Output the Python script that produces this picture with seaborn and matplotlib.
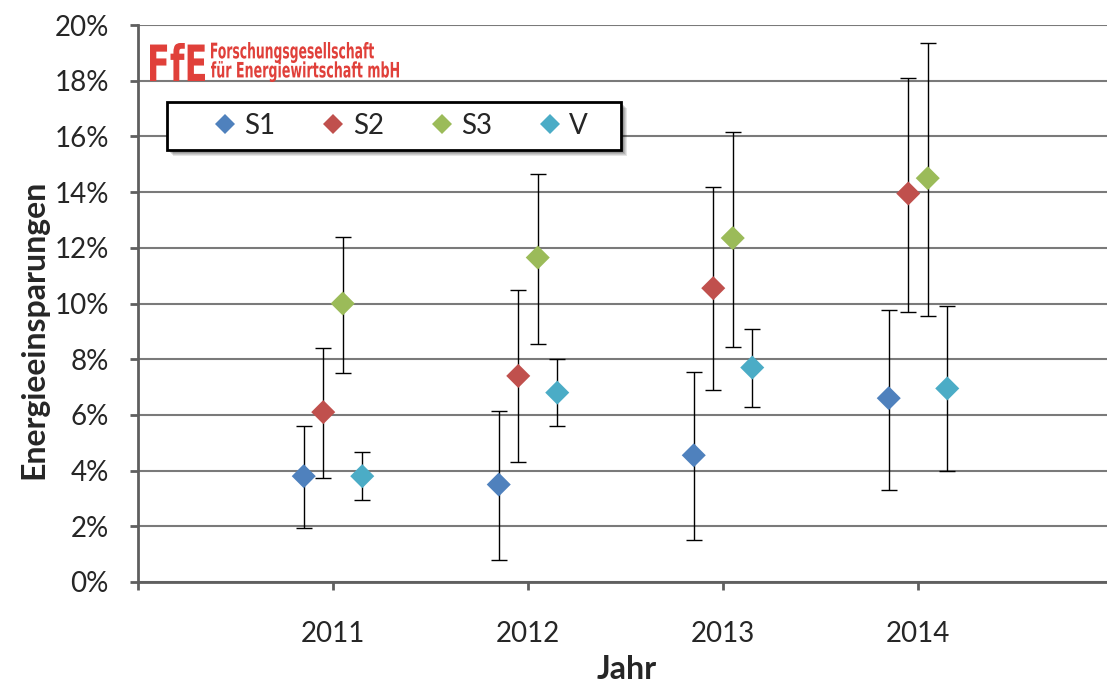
import numpy as np
import pandas as pd
import matplotlib
matplotlib.use("Agg")
import matplotlib.pyplot as plt
import matplotlib.transforms as mtransforms
from matplotlib.lines import Line2D
from matplotlib.patches import Rectangle, PathPatch
from matplotlib.textpath import TextPath
from matplotlib.font_manager import FontProperties
from matplotlib.ticker import FuncFormatter
import seaborn as sns

# ---- data (energy savings in %, mean with lower/upper bound) ----
years = [2011, 2012, 2013, 2014]
series = ["S1", "S2", "S3", "V"]

s1_mean = [3.8, 3.5, 4.55, 6.6]
s1_low = [1.95, 0.8, 1.5, 3.3]
s1_high = [5.6, 6.15, 7.55, 9.75]

s2_mean = [6.1, 7.4, 10.55, 13.95]
s2_low = [3.75, 4.3, 6.9, 9.7]
s2_high = [8.4, 10.5, 14.2, 18.1]

s3_mean = [10.0, 11.65, 12.35, 14.5]
s3_low = [7.5, 8.55, 8.45, 9.55]
s3_high = [12.4, 14.65, 16.15, 19.35]

v_mean = [3.8, 6.8, 7.7, 6.95]
v_low = [2.95, 5.6, 6.3, 4.0]
v_high = [4.65, 8.0, 9.1, 9.9]

y_ticks = [0, 2, 4, 6, 8, 10, 12, 14, 16, 18, 20]
x_tick_labels = ["", "2011", "2012", "2013", "2014"]

# ---- styling ----
colors = {"S1": "#4F81BD", "S2": "#C0504D", "S3": "#9BBB59", "V": "#4BACC6"}
offsets = {"S1": -0.15, "S2": -0.05, "S3": 0.05, "V": 0.15}

values = {
    "S1": (s1_mean, s1_low, s1_high),
    "S2": (s2_mean, s2_low, s2_high),
    "S3": (s3_mean, s3_low, s3_high),
    "V": (v_mean, v_low, v_high),
}

rows = []
for name in series:
    m, lo, hi = values[name]
    for yr, a, b, c in zip(years, m, lo, hi):
        rows.append({"Jahr": yr, "pos": yr + offsets[name], "Wert": a,
                     "low": b, "high": c, "Serie": name})
df = pd.DataFrame(rows)

sns.set_theme(style="white")
plt.rcParams["font.family"] = ["Lato", "DejaVu Sans"]

W, H = 1107, 686
fig = plt.figure(figsize=(W / 100, H / 100), dpi=100)
ax = fig.add_axes([138 / W, 104 / H, 969 / W, 557 / H])

# error bars
for name in series:
    d = df[df["Serie"] == name]
    ax.errorbar(d["pos"], d["Wert"],
                yerr=[d["Wert"] - d["low"], d["high"] - d["Wert"]],
                fmt="none", ecolor="black", elinewidth=1.0,
                capsize=6, capthick=1.0, zorder=2)

sns.scatterplot(data=df, x="pos", y="Wert", hue="Serie", palette=colors,
                hue_order=series, marker="D", s=150, linewidth=0,
                ax=ax, zorder=3, legend=False)

ax.set_xlim(2010, 2010 + 969 / 195)
ax.set_ylim(0, 20)
ax.set_yticks(y_ticks)
ax.yaxis.set_major_formatter(FuncFormatter(lambda v, p: f"{v:.0f}%"))
ax.set_xticks([2010] + years)
ax.set_xticklabels(x_tick_labels)

ax.yaxis.grid(True, color="#7a7a7a", linewidth=1.5)
ax.xaxis.grid(False)
ax.set_axisbelow(True)

for side in ["top", "right"]:
    ax.spines[side].set_visible(False)
for side in ["left", "bottom"]:
    ax.spines[side].set_color("#5f5f5f")
    ax.spines[side].set_linewidth(2.0)

ax.tick_params(axis="y", which="major", direction="out", length=6, width=2,
               color="#5f5f5f", labelsize=20, pad=15, left=True)
ax.tick_params(axis="x", which="major", direction="out", length=6, width=2,
               color="#5f5f5f", labelsize=20, pad=22, bottom=True)

ax.set_xlabel("Jahr", fontsize=23, fontweight="bold")
ax.set_ylabel("Energieeinsparungen", fontsize=23, fontweight="bold")
ax.xaxis.set_label_coords((627 - 138) / 969, (582 - 655) / 557)
ax.yaxis.set_label_coords((48 - 138) / 969, (582 - 329) / 557)

# legend box with soft drop shadow
bx0, by0 = (167 - 138) / 969, (582 - 150) / 557
bw, bh = 454 / 969, 48 / 557
for i, a in enumerate([0.10, 0.10, 0.12, 0.14]):
    off = mtransforms.offset_copy(ax.transAxes, fig=fig, x=6 - i, y=-(6 - i), units="dots")
    ax.add_patch(Rectangle((bx0, by0), bw, bh, transform=off, facecolor="black",
                           edgecolor="none", alpha=a, zorder=4, clip_on=False))
ax.add_patch(Rectangle((bx0, by0), bw, bh, transform=ax.transAxes, facecolor="white",
                       edgecolor="black", linewidth=2.0, zorder=5, clip_on=False))

handles = [Line2D([], [], linestyle="none", marker="D", markersize=10,
                  markerfacecolor=colors[n], markeredgewidth=0) for n in series]
leg = ax.legend(handles, series, ncol=4, frameon=False, fontsize=20,
                loc="center left",
                bbox_to_anchor=((214 - 138) / 969, (582 - 126) / 557),
                borderpad=0, borderaxespad=0, handlelength=0.8,
                handletextpad=0.29, columnspacing=1.69)
leg.set_zorder(6)

# company logo
logo_red = "#E0403A"
to_fig = mtransforms.Affine2D().scale(1 / W, 1 / H) + fig.transFigure


def place_text(s, x0, x1, ytop, ybot, weight="bold"):
    fp = FontProperties(family="DejaVu Sans", weight=weight)
    tp = TextPath((0, 0), s, size=1, prop=fp)
    bb = tp.get_extents()
    sx = (x1 - x0) / bb.width
    sy = (ybot - ytop) / bb.height
    tr = (mtransforms.Affine2D().translate(-bb.x0, -bb.y0)
          .scale(sx, sy).translate(x0, H - ybot))
    fig.add_artist(PathPatch(tr.transform_path(tp), transform=to_fig,
                             facecolor=logo_red, edgecolor="none", zorder=7))


place_text("FfE", 150, 205, 43, 81)
place_text("Forschungsgesellschaft", 211, 374, 42, 63)
place_text("für Energiewirtschaft mbH", 211, 399, 61, 82)

fig.savefig("out.png", dpi=100)
